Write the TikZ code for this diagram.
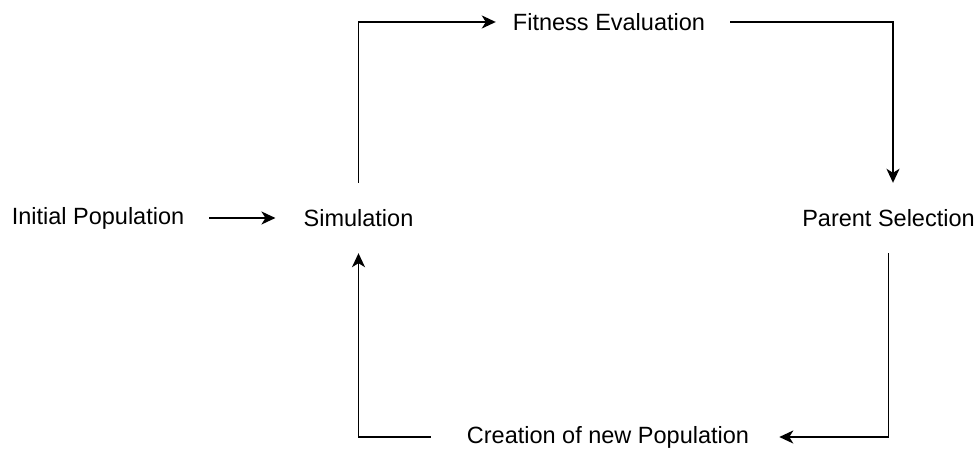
\documentclass[tikz,border=0pt]{standalone}
\usepackage{fontspec}
\setmainfont{Liberation Sans}
\usetikzlibrary{arrows.meta}
\begin{document}
\begin{tikzpicture}[x=1pt,y=-1pt,
  lbl/.style={inner sep=0pt, font=\fontsize{23.5}{28}\selectfont},
  tall/.style={minimum height=70pt},
  conn/.style={line width=1.8pt, -{Stealth[length=14pt,width=13pt,inset=4pt]}}]
\useasboundingbox (0,0) rectangle (979,457);
\node[lbl,tall] (init) at (98,218) {Initial Population};
\node[lbl,tall] (sim) at (358.5,218) {Simulation};
\node[lbl] (fit) at (609,22) {Fitness Evaluation};
\node[lbl,tall] (par) at (888.5,218) {Parent Selection};
\node[lbl] (cre) at (608,437) {Creation of new Population};
\draw[conn, shorten <=25pt, shorten >=28pt] (init.east) -- (sim.west);
\draw[conn, shorten >=17pt] (sim.north) |- (fit.west);
\draw[conn, shorten <=25pt] (fit.east) -| ([xshift=4.5pt]par.north);
\draw[conn, shorten >=30pt] (par.south) |- (cre.east);
\draw[conn, shorten <=36pt] (cre.west) -| (sim.south);
\end{tikzpicture}
\end{document}
